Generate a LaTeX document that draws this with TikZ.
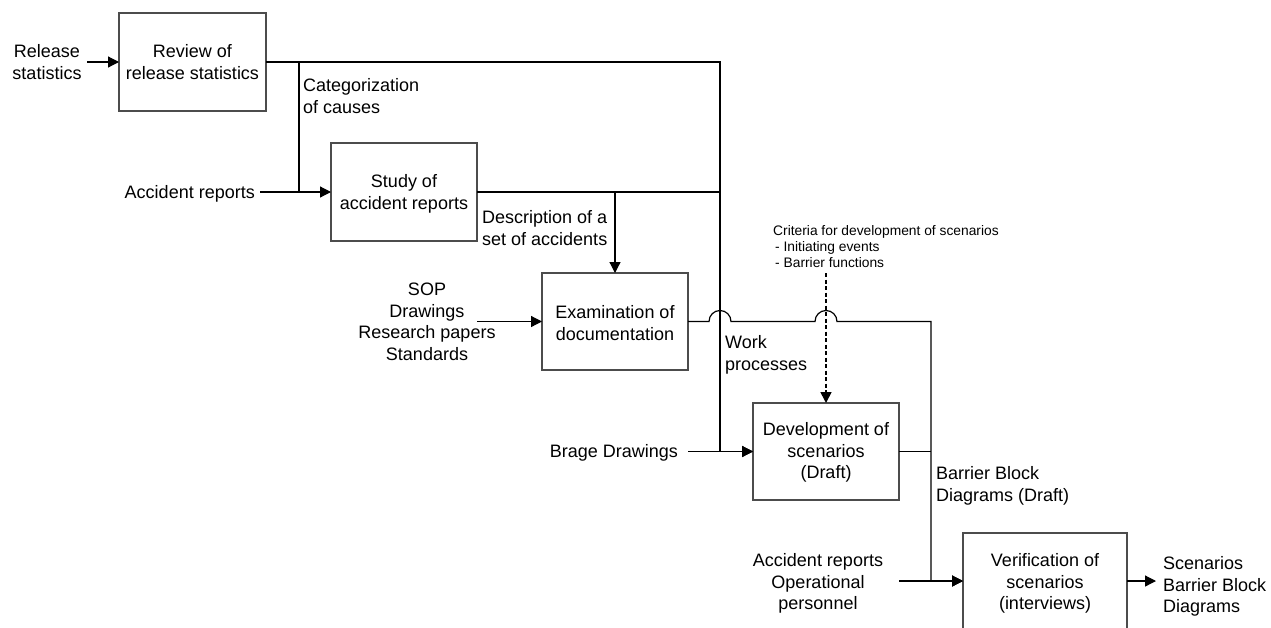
\documentclass[tikz,border=0pt]{standalone}
\usepackage{fontspec}
\setmainfont{Liberation Sans}
\usetikzlibrary{arrows.meta}
\begin{document}
\begin{tikzpicture}[x=1pt,y=-1pt,
  box/.style={draw=black!70, line width=1.1pt, rectangle, inner sep=0pt,
              outer sep=0pt, anchor=north west},
  lbl/.style={inner sep=0pt, font=\fontsize{18}{21.7}\selectfont, align=center},
  lbll/.style={lbl, align=left},
  small/.style={inner sep=0pt, font=\fontsize{13.8}{16}\selectfont, align=left},
  wire/.style={line width=1.2pt},
  flow/.style={wire, -{Triangle[length=11pt,width=11pt]}},
  ]
\clip (0,0) rectangle (1271,627);
\fill[white] (0,0) rectangle (1271,627);

% process boxes
\node[box, minimum width=147pt, minimum height=98pt] (b1) at (119,13) {};
\node[box, minimum width=146pt, minimum height=98pt] (b2) at (331,143) {};
\node[box, minimum width=146pt, minimum height=97pt] (b3) at (542,273) {};
\node[box, minimum width=146pt, minimum height=97pt] (b4) at (753,403) {};
\node[box, minimum width=164pt, minimum height=96pt] (b5) at (963,533) {};

% box texts
\node[lbl, anchor=north] (t1) at (192.5,42) {\strut Review of\\\strut release statistics};
\node[lbl, anchor=north] (t2) at (404,172) {\strut Study of\\\strut accident reports};
\node[lbl, anchor=north] (t3) at (615,303) {\strut Examination of\\\strut documentation};
\node[lbl, anchor=north] (t4) at (826,420) {\strut Development of\\\strut scenarios\\\strut (Draft)};
\node[lbl, anchor=north] (t5) at (1045,551) {\strut Verification of\\\strut scenarios\\\strut (interviews)};

% inputs, outputs and flow labels
\node[lbl, anchor=north] (relstat) at (47,42) {\strut Release\\\strut statistics};
\node[lbll, anchor=north west] (catcause) at (303,76) {\strut Categorization\\\strut of causes};
\node[lbll, anchor=north east] (accrep) at (255,183) {\strut Accident reports};
\node[lbll, anchor=north west] (descr) at (482,208) {\strut Description of a\\\strut set of accidents};
\node[lbl, anchor=north] (docs) at (427,280) {\strut SOP\\\strut Drawings\\\strut Research papers\\\strut Standards};
\node[lbll, anchor=north west] (workp) at (725,333) {\strut Work\\\strut processes};
\node[small, anchor=north west] (crit) at (773,224) {\strut Criteria for development of scenarios\\\strut\hspace{2pt}- Initiating events\\\strut\hspace{2pt}- Barrier functions};
\node[lbl, anchor=north east] (brage) at (678,442) {\strut Brage Drawings};
\node[lbll, anchor=north west] (bbd) at (936,464) {\strut Barrier Block\\\strut Diagrams (Draft)};
\node[lbl, anchor=north] (accop) at (818,551) {\strut Accident reports\\\strut Operational\\\strut personnel};
\node[lbll, anchor=north west] (scen) at (1163,554) {\strut Scenarios\\\strut Barrier Block\\\strut Diagrams};

% free ends of the connectors
\coordinate (relIn) at (87,62);
\coordinate (accIn) at (260,192);
\coordinate (docIn) at (477,321.5);
\coordinate (critTop) at (826,273);
\coordinate (brIn) at (688,451.5);
\coordinate (verIn) at (899,581);
\coordinate (outEnd) at (1156,581);

% connectors
\draw[flow] (relIn) -- (b1.west);
\draw[flow] (b1.east) -- (720,62) -- (720,451.5) -- (b4.west);
\draw[wire] (299,62) -- (299,192);
\draw[flow] (accIn) -- (b2.west);
\draw[wire] (b2.east) -- (720,192);
\draw[flow] (615,192) -- (b3.north);
\draw[flow] (docIn) -- (b3.west);
\draw[flow] (b3.east) -- (709,321.5)
  .. controls (709,315.4) and (713.9,310.5) .. (720,310.5)
  .. controls (726.1,310.5) and (731,315.4) .. (731,321.5)
  -- (815,321.5)
  .. controls (815,315.4) and (819.9,310.5) .. (826,310.5)
  .. controls (832.1,310.5) and (837,315.4) .. (837,321.5)
  -- (931,321.5) -- (931,581) -- (b5.west);
\draw[flow, line width=1.7pt, dash pattern=on 4pt off 2.5pt] (critTop) -- (b4.north);
\draw[flow] (brIn) -- (b4.west);
\draw[wire] (b4.east) -- (931,451.5);
\draw[flow] (verIn) -- (b5.west);
\draw[flow] (b5.east) -- (outEnd);
\end{tikzpicture}
\end{document}
